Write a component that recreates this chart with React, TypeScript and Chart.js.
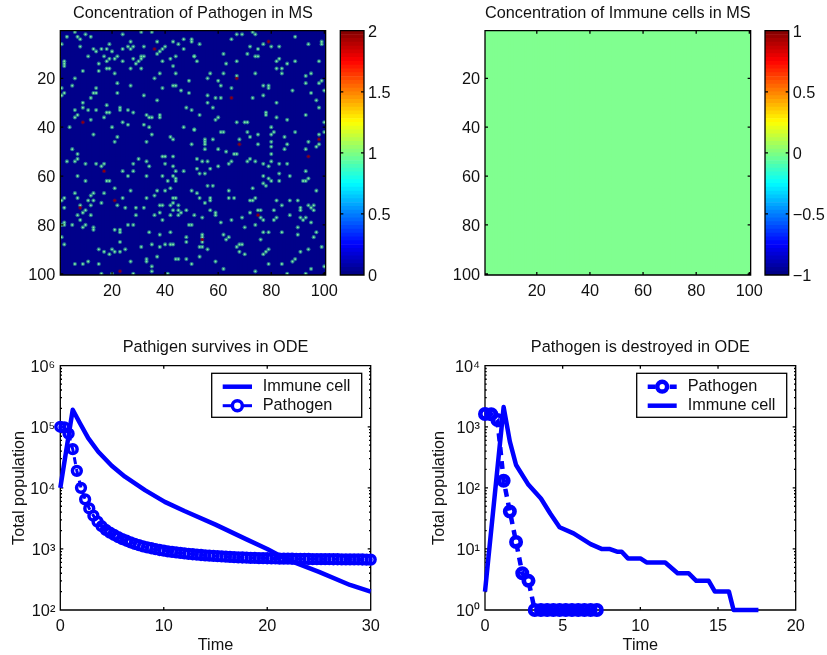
import React, { useEffect, useRef } from "react";
import { Chart, registerables } from "chart.js";

Chart.register(...registerables);

const FONT = "'Liberation Sans', Arial, sans-serif";
const BLUE = "#0000ff";
const FS = 16.3;

const titleTopLeft = "Concentration of Pathogen in MS";
const titleTopRight = "Concentration of Immune cells in MS";
const titleBottomLeft = "Pathigen survives in ODE";
const titleBottomRight = "Pathogen is destroyed in ODE";

const heatTicks = [20, 40, 60, 80, 100];
const barTicksPathogen = [0, 0.5, 1, 1.5, 2];
const barTicksImmune = [-1, -0.5, 0, 0.5, 1];

// Cells of the pathogen matrix holding a value of 1: [column, row]
const pathogenOnes: number[][] = [
  [3,3],[6,1],[7,3],[8,4],[10,2],[12,3],[24,2],[31,1],[35,1],[1,6],[8,7],[13,8],[14,9],[16,8],[18,8],[20,9],[19,6],[24,8],[27,5],[26,7],[28,7],[27,8],[32,7],[37,5],[43,5],[45,6],[47,4],[50,4],[50,5],[47,8],[38,9],[39,8],[40,7],[37,10],
  [11,11],[17,11],[22,11],[21,12],[19,12],[18,13],[15,14],[24,13],[28,12],[31,11],[31,12],[30,13],[29,14],[32,11],[39,13],[42,12],[44,11],[51,11],[2,13],[2,14],[2,15],[43,15],[9,17],[15,17],[18,16],[19,16],[21,18],[27,16],[31,16],[38,18],[44,18],[6,20],[36,20],[49,21],[22,22],[27,23],[5,23],[43,23],[44,23],[39,24],[46,25],[49,26],[1,24],[2,26],[1,27],[14,24],[13,26],[14,26],[22,26],[12,28],[32,27],[37,29],[9,30],[9,32],[18,31],[6,33],[11,33],[14,33],[23,32],[23,33],[26,33],[28,34],[18,34],[19,34],[48,32],[50,33],[7,35],[6,36],[17,36],[33,35],[34,36],[35,36],[38,35],[38,36],[12,37],[24,38],[26,39],[32,39],[34,40],[4,40],[20,40],[47,40],[51,41],[13,43],[35,43],[22,44],[42,44],[43,45],[21,46],[33,46],[50,47],[5,49],[7,51],
  [67,2],[69,2],[73,1],[74,2],[89,3],[65,4],[53,6],[77,6],[72,7],[75,8],[80,7],[83,7],[94,6],[99,5],[99,6],[62,10],[71,10],[74,11],[75,11],[83,12],[82,13],[89,13],[98,13],[51,11],[52,13],[67,13],[63,14],[86,14],[82,16],[84,16],[84,18],[57,18],[62,18],[74,18],[95,18],[93,19],[67,19],[56,20],[60,21],[99,21],[98,22],[93,22],[61,23],[77,23],[79,23],[79,24],[65,24],[88,25],[95,26],[100,25],[56,27],[59,28],[61,28],[73,28],[77,27],[97,29],[56,30],[82,30],[58,32],[98,32],[78,34],[78,35],[53,35],[93,35],[60,36],[59,37],[82,36],[86,37],[67,38],[70,38],[71,38],[100,38],[80,40],[51,41],[61,42],[62,42],[71,42],[81,42],[80,43],[75,43],[89,42],[100,42],[72,44],[85,44],[98,43],[58,45],[68,45],[55,45],[55,46],[55,47],[94,46],[80,46],[75,47],[86,47],[98,47],[97,48],[80,48],[55,49],[60,49],[85,49],[93,49],[63,50],[66,51],[67,51],[80,51],
  [3,54],[6,54],[7,53],[10,55],[14,55],[16,56],[17,55],[28,55],[30,53],[33,54],[34,56],[39,52],[40,52],[43,52],[40,55],[43,56],[24,58],[28,58],[44,58],[47,58],[7,60],[26,60],[33,60],[39,60],[43,60],[44,61],[44,62],[10,62],[18,62],[19,62],[41,62],[21,65],[42,65],[27,66],[37,66],[40,66],[50,66],[6,67],[13,67],[12,68],[17,67],[36,68],[7,69],[24,69],[33,69],[43,69],[44,69],[2,69],[1,70],[11,70],[13,70],[16,71],[43,71],[8,72],[12,72],[22,72],[38,72],[39,72],[42,72],[45,72],[2,73],[25,73],[29,73],[32,73],[10,74],[9,75],[38,75],[43,74],[45,74],[48,74],[46,75],[7,76],[12,76],[29,76],[36,76],[42,76],[45,76],[51,76],[8,78],[39,78],[2,79],[2,80],[1,80],[5,80],[10,80],[9,81],[26,80],[28,80],[49,80],[50,80],[13,81],[13,82],[21,82],[23,82],[23,83],[34,83],[42,83],[38,84],[48,85],[1,85],[2,88],[23,87],[48,87],[31,89],[35,88],[38,89],[40,88],[42,88],[43,88],[15,90],[20,90],[17,91],[21,91],[23,91],[25,90],[19,92],[37,93],[33,94],[33,95],[27,95],[44,94],[45,94],[48,94],[6,96],[9,96],[11,95],[15,96],[50,96],[35,97],[35,99],[16,100],[20,100],[28,100],[41,100],
  [52,53],[54,54],[56,54],[65,54],[64,55],[71,54],[72,53],[74,54],[77,55],[80,54],[79,56],[83,55],[86,55],[52,57],[57,57],[60,56],[93,58],[53,59],[55,59],[83,59],[77,60],[87,60],[79,61],[80,62],[83,62],[92,62],[93,62],[94,61],[77,63],[78,64],[56,64],[58,64],[73,65],[64,66],[97,66],[52,67],[64,69],[66,69],[53,69],[57,69],[57,70],[74,69],[72,70],[73,70],[55,71],[82,70],[87,70],[90,70],[84,72],[94,72],[96,72],[95,73],[96,74],[91,73],[91,74],[57,74],[59,75],[59,76],[75,74],[76,74],[81,74],[72,75],[87,76],[54,77],[69,77],[76,77],[77,78],[82,77],[81,78],[91,77],[93,77],[92,78],[65,78],[61,79],[95,79],[74,80],[70,81],[90,81],[77,83],[79,83],[84,83],[97,83],[62,84],[64,85],[63,86],[90,84],[96,85],[54,84],[54,85],[54,87],[76,86],[68,88],[69,88],[67,89],[99,89],[53,89],[54,89],[56,90],[79,90],[78,91],[77,92],[68,91],[70,92],[91,91],[94,90],[53,93],[89,94],[88,95],[59,95],[79,96],[84,96],[62,98],[95,98],[74,99],[100,97],[86,100],[93,100],
];
// Cells of the pathogen matrix holding a value of 2: [column, row]
const pathogenTwos: number[][] = [
  [36,8],[9,38],[79,5],[67,20],[65,28],[98,45],[68,47],[17,58],[21,70],[8,73],[23,99],[94,52],[75,76],[54,86],
];

const survivesImmuneT = [0, 1.2, 1.9, 2.7, 3.67, 4.97, 6.25, 8.18, 10.1, 12, 15, 18, 20, 22, 25, 28, 30];
const survivesImmuneV = [10000, 190000, 114000, 65000, 39000, 23000, 15200, 9200, 5900, 4170, 2500, 1435, 1000, 660, 420, 257, 200];
const survivesPathogenT = [0,0.4,0.8,1.2,1.6,2,2.4,2.8,3.2,3.6,4,4.4,4.8,5.2,5.6,6,6.4,6.8,7.2,7.6,8,8.4,8.8,9.2,9.6,10,10.4,10.8,11.2,11.6,12,12.4,12.8,13.2,13.6,14,14.4,14.8,15.2,15.6,16,16.4,16.8,17.2,17.6,18,18.4,18.8,19.2,19.6,20,20.4,20.8,21.2,21.6,22,22.4,22.8,23.2,23.6,24,24.4,24.8,25.2,25.6,26,26.4,26.8,27.2,27.6,28,28.4,28.8,29.2,29.6,30];
const survivesPathogenV = [100000,98000,77000,43000,19000,10000,6500,4600,3500,2800,2350,2050,1850,1700,1560,1450,1360,1280,1210,1150,1100,1060,1025,990,960,935,915,895,875,860,845,830,818,806,796,786,777,768,760,753,746,740,734,729,724,720,716,712,709,706,703,700,698,696,694,692,690,688,687,686,684,683,682,681,680,679,678,677,676,675,674,673,672,671,670,670];

const destroyedPathogenT = [0,0.4,0.8,1.2,1.6,2,2.4,2.8,3.2,3.6,4,4.4,4.8,5.2,5.6,6,6.4,6.8,7.2];
const destroyedPathogenV = [1620,1600,1290,131,41,13,4,3,1,1,1,1,1,1,1,1,1,1,1];
const destroyedImmuneT = [0, 1.2, 1.6, 2, 2.8, 3.6, 4.2, 4.8, 5.7, 6.8, 7.5, 8, 8.5, 8.8, 9.2, 10, 10.4, 11.6, 12.4, 13.1, 13.6, 14.4, 14.8, 15.7, 16, 17.6];
const destroyedImmuneV = [2, 2100, 570, 237, 112, 67, 38, 22.6, 18, 12, 10, 10, 9, 9, 7, 7, 6, 6, 4, 4, 3, 3, 2, 2, 1, 1];

const jet = (i: number, n = 64) => {
  const x = (i + 0.5) / n;
  const c = (d: number) => Math.round(255 * Math.max(0, Math.min(1, 1.5 - Math.abs(4 * x - d))));
  return `rgb(${c(3)},${c(2)},${c(1)})`;
};
const ZERO_PATHOGEN = "#00008a";
const ZERO_IMMUNE = "#80ff90";

const pts = (cells: number[][]) => cells.map(([x, y]) => ({ x, y }));
const xy = (t: number[], v: number[]) => t.map((x, i) => ({ x, y: v[i] }));
const allCells = () => {
  const out: { x: number; y: number }[] = [];
  for (let r = 1; r <= 100; r++) for (let c = 1; c <= 100; c++) out.push({ x: c, y: r });
  return out;
};

type Box = { x: number; y: number; w: number; h: number };
type Area = { l: number; t: number; r: number; b: number };

const axesPlugin = {
  id: "matlabAxes",
  beforeDatasetsDraw(chart: any, _a: any, o: any) {
    if (!o.onTop) draw(chart, o);
  },
  afterDatasetsDraw(chart: any, _a: any, o: any) {
    if (o.onTop) draw(chart, o);
    if (o.legend) drawLegend(chart, o.legend);
  },
};

function draw(chart: any, o: any) {
  const { ctx, chartArea: a, scales } = chart;
  ctx.save();
  ctx.strokeStyle = "#000";
  ctx.lineWidth = 1.3;
  ctx.beginPath();
  const seg = (x1: number, y1: number, x2: number, y2: number) => {
    ctx.moveTo(x1, y1);
    ctx.lineTo(x2, y2);
  };
  if (scales.x && o.xTicks) {
    for (const v of o.xTicks) {
      const p = scales.x.getPixelForValue(v);
      seg(p, a.bottom, p, a.bottom - 3);
      seg(p, a.top, p, a.top + 3);
    }
  }
  for (const v of o.yTicks || []) {
    const p = scales.y.getPixelForValue(v);
    seg(a.left, p, a.left + 3, p);
    seg(a.right, p, a.right - 3, p);
  }
  for (const v of o.yMinor || []) {
    const p = scales.y.getPixelForValue(v);
    seg(a.left, p, a.left + 1.7, p);
    seg(a.right, p, a.right - 1.7, p);
  }
  ctx.rect(a.left, a.top, a.right - a.left, a.bottom - a.top);
  ctx.stroke();
  ctx.restore();
}

function drawLegend(chart: any, l: any) {
  const { ctx } = chart;
  const box = chart.canvas.getBoundingClientRect();
  const ox = -box.left - window.scrollX;
  const oy = -box.top - window.scrollY;
  ctx.save();
  ctx.fillStyle = "#fff";
  ctx.strokeStyle = "#000";
  ctx.lineWidth = 1.3;
  ctx.fillRect(l.x0 + ox, l.y0 + oy, l.x1 - l.x0, l.y1 - l.y0);
  ctx.strokeRect(l.x0 + ox, l.y0 + oy, l.x1 - l.x0, l.y1 - l.y0);
  l.rows.forEach((r: any, i: number) => {
    const y = l.ys[i] + oy;
    ctx.strokeStyle = BLUE;
    ctx.lineWidth = r.lw;
    ctx.setLineDash(r.dash || []);
    ctx.beginPath();
    ctx.moveTo(l.lx0 + ox, y);
    ctx.lineTo(l.lx1 + ox, y);
    ctx.stroke();
    ctx.setLineDash([]);
    if (r.marker) {
      ctx.lineWidth = r.ring;
      ctx.fillStyle = "#fff";
      ctx.beginPath();
      ctx.arc((l.lx0 + l.lx1) / 2 + ox, y, r.radius, 0, Math.PI * 2);
      ctx.fill();
      ctx.stroke();
    }
    ctx.fillStyle = "#111";
    ctx.font = `${FS}px ${FONT}`;
    ctx.textBaseline = "middle";
    ctx.textAlign = "left";
    ctx.fillText(r.label, l.tx + ox, y);
  });
  ctx.restore();
}

function base(box: Box, area: Area, title: string | null, titleCenterY: number) {
  const rel = { l: area.l - box.x, t: area.t - box.y, r: area.r - box.x, b: area.b - box.y };
  const lh = FS * 1.2;
  const top = titleCenterY - box.y - lh / 2;
  return {
    responsive: false,
    animation: false as const,
    layout: { padding: { left: 0, top: 0, right: box.w - rel.r, bottom: 0 } },
    plugins: {
      legend: { display: false },
      tooltip: { enabled: false },
      title: {
        display: true,
        text: title,
        fullSize: false,
        color: "#111",
        font: { family: FONT, size: FS, weight: "normal" as const },
        padding: { top: Math.max(0, top), bottom: rel.t - Math.max(0, top) - lh },
      },
    },
    _fitL: rel.l,
    _fitB: box.h - rel.b,
  };
}

const heatAxis = (fit: (s: any) => void, padding: number, labelOffset: number) => ({
  type: "linear" as const,
  min: 0.5,
  max: 100.5,
  grid: { display: false, drawTicks: false },
  border: { display: false },
  afterBuildTicks: (s: any) => {
    s.ticks = heatTicks.map((value) => ({ value }));
  },
  afterFit: fit,
  ticks: { autoSkip: false, maxRotation: 0, padding, labelOffset, color: "#111", font: { family: FONT, size: FS } },
});

function heatConfig(box: Box, area: Area, title: string, datasets: any[]) {
  const b: any = base(box, area, title, 13.5);
  return {
    type: "scatter",
    data: { datasets },
    plugins: [axesPlugin],
    options: {
      ...b,
      plugins: { ...b.plugins, matlabAxes: { onTop: true, xTicks: heatTicks, yTicks: heatTicks } },
      scales: {
        x: heatAxis((s: any) => { s.height = b._fitB; }, 7, 0),
        y: { ...heatAxis((s: any) => { s.width = b._fitL; }, 5, 1.5), reverse: true },
      },
    },
  };
}

function barConfig(box: Box, area: Area, ticks: number[]) {
  const lo = ticks[0];
  const hi = ticks[ticks.length - 1];
  const step = (hi - lo) / 64;
  const levels = Array.from({ length: 64 }, (_, i) => i);
  const rel = { l: area.l - box.x, t: area.t - box.y, r: area.r - box.x, b: area.b - box.y };
  return {
    type: "bar",
    data: {
      labels: ["c"],
      datasets: levels.map((i) => ({
        data: [[lo + i * step, lo + (i + 1) * step]],
        backgroundColor: jet(i),
        borderWidth: 0,
        grouped: false,
        barPercentage: 1,
        categoryPercentage: 1,
      })),
    },
    plugins: [axesPlugin],
    options: {
      responsive: false,
      animation: false,
      layout: { padding: { left: rel.l, top: rel.t, right: 0, bottom: box.h - rel.b } },
      plugins: { legend: { display: false }, tooltip: { enabled: false }, matlabAxes: { onTop: true, yTicks: ticks } },
      scales: {
        x: { display: false, offset: true },
        y: {
          type: "linear",
          position: "right",
          min: lo,
          max: hi,
          grid: { display: false, drawTicks: false },
          border: { display: false },
          afterBuildTicks: (s: any) => {
            s.ticks = ticks.map((value) => ({ value }));
          },
          afterFit: (s: any) => { s.width = box.w - rel.r; },
          ticks: {
            padding: 4,
            labelOffset: 1.5,
            color: "#111",
            font: { family: FONT, size: FS },
            callback: (v: number) => String(v).replace("-", "\u2212"),
          },
        },
      },
    },
  };
}

const SUP = "\u2070\u00b9\u00b2\u00b3\u2074\u2075\u2076";

function logConfig(box: Box, area: Area, title: string, datasets: any[], xMax: number, xTicks: number[], decades: number[], legend: any) {
  const b: any = base(box, area, title, 348);
  const minor: number[] = [];
  for (const d of decades.slice(0, -1)) for (const m of [2, 3, 4, 5, 6, 7, 8, 9]) minor.push(d * m);
  return {
    type: "line",
    data: { datasets },
    plugins: [axesPlugin],
    options: {
      ...b,
      plugins: { ...b.plugins, matlabAxes: { onTop: false, xTicks, yTicks: decades, yMinor: minor, legend } },
      scales: {
        x: {
          type: "linear",
          min: 0,
          max: xMax,
          grid: { display: false, drawTicks: false },
          border: { display: false },
          afterBuildTicks: (s: any) => {
            s.ticks = xTicks.map((value) => ({ value }));
          },
          afterFit: (s: any) => { s.height = b._fitB; },
          title: { display: true, text: "Time", color: "#111", font: { family: FONT, size: FS }, padding: { top: 0, bottom: 0 } },
          ticks: { autoSkip: false, maxRotation: 0, padding: 7, color: "#111", font: { family: FONT, size: FS } },
        },
        y: {
          type: "logarithmic",
          min: decades[0],
          max: decades[decades.length - 1],
          grid: { display: false, drawTicks: false },
          border: { display: false },
          afterBuildTicks: (s: any) => {
            s.ticks = decades.map((value) => ({ value }));
          },
          afterFit: (s: any) => { s.width = b._fitL; },
          title: { display: true, text: "Total population", color: "#111", font: { family: FONT, size: FS }, padding: { top: 9.5, bottom: 0 } },
          ticks: {
            autoSkip: false,
            padding: 5,
            labelOffset: 2,
            color: "#111",
            font: { family: FONT, size: FS },
            callback: (v: number) => "10" + SUP[Math.round(Math.log10(v))],
          },
        },
      },
    },
  };
}

function Panel({ box, make }: { box: Box; make: () => any }) {
  const ref = useRef<HTMLCanvasElement>(null);
  useEffect(() => {
    const chart = new Chart(ref.current as HTMLCanvasElement, make());
    return () => chart.destroy();
  }, []);
  return (
    <canvas
      ref={ref}
      width={box.w}
      height={box.h}
      style={{ position: "absolute", left: box.x, top: box.y, width: box.w, height: box.h, display: "block" }}
    />
  );
}

const boxTL: Box = { x: 0, y: 0, w: 345, h: 305 };
const areaTL: Area = { l: 60.3, t: 30.7, r: 325.7, b: 275 };
const boxTR: Box = { x: 420, y: 0, w: 350, h: 305 };
const areaTR: Area = { l: 485, t: 30.7, r: 750.7, b: 275 };
const boxCL: Box = { x: 335, y: 0, w: 70, h: 305 };
const areaCL: Area = { l: 340.3, t: 30.7, r: 364, b: 275 };
const boxCR: Box = { x: 760, y: 0, w: 67, h: 305 };
const areaCR: Area = { l: 765, t: 30.7, r: 788.7, b: 275 };
const boxBL: Box = { x: 0, y: 330, w: 395, h: 325 };
const areaBL: Area = { l: 60.3, t: 365.7, r: 370.7, b: 610 };
const boxBR: Box = { x: 420, y: 330, w: 400, h: 325 };
const areaBR: Area = { l: 485, t: 365.7, r: 795.7, b: 610 };

const cellSet = (data: any[], color: string, radius: number, label: string) => ({
  label,
  data,
  showLine: false,
  pointStyle: "circle",
  pointRadius: radius,
  pointBorderWidth: 0,
  pointBackgroundColor: color,
  clip: 0,
});

// Chart.js paints the first dataset last, so the base matrix comes at the end.
const tlDatasets = () => [
  cellSet(pts(pathogenTwos), "#960000", 1.1, "2"),
  cellSet(pts(pathogenOnes), "#80eca0", 0.95, "1"),
  cellSet(pts(pathogenTwos), "rgba(110,0,60,0.6)", 2.1, "2 halo"),
  cellSet(pts(pathogenOnes), "rgba(55,165,150,0.7)", 2.1, "1 halo"),
  { ...cellSet(allCells(), ZERO_PATHOGEN, 3, "0"), pointStyle: "rect" },
];
const trDatasets = () => [{ ...cellSet(allCells(), ZERO_IMMUNE, 3, "0"), pointStyle: "rect" }];

const lineSet = (label: string, data: any[]) => ({
  label, data, borderColor: BLUE, borderWidth: 4.5, borderJoinStyle: "round" as const, pointRadius: 0, tension: 0, fill: false, clip: false as any,
});
const markSet = (label: string, data: any[], lw: number, ring: number, r: number, dash: number[]) => ({
  label, data, borderColor: BLUE, borderWidth: lw, borderDash: dash, tension: 0, fill: false, clip: false as any,
  pointRadius: r, pointBorderWidth: ring, pointBorderColor: BLUE, pointBackgroundColor: "transparent",
});

export default function App() {
  return (
    <div style={{ position: "absolute", left: 0, top: 0, width: 827, height: 655, background: "#fff" }}>
      <Panel box={boxTL} make={() => heatConfig(boxTL, areaTL, titleTopLeft, tlDatasets())} />
      <Panel box={boxTR} make={() => heatConfig(boxTR, areaTR, titleTopRight, trDatasets())} />
      <Panel box={boxCL} make={() => barConfig(boxCL, areaCL, barTicksPathogen)} />
      <Panel box={boxCR} make={() => barConfig(boxCR, areaCR, barTicksImmune)} />
      <Panel
        box={boxBL}
        make={() =>
          logConfig(boxBL, areaBL, titleBottomLeft,
            [markSet("Pathogen", xy(survivesPathogenT, survivesPathogenV), 3, 3.5, 4.4, [7, 5]), lineSet("Immune cell", xy(survivesImmuneT, survivesImmuneV))],
            30, [0, 10, 20, 30], [100, 1000, 10000, 100000, 1000000],
            { x0: 211.7, y0: 373.3, x1: 361.7, y1: 417.3, lx0: 222.7, lx1: 252, tx: 262.7, ys: [386.7, 405.7],
              rows: [{ label: "Immune cell", lw: 4.5 }, { label: "Pathogen", lw: 3, marker: true, ring: 3.5, radius: 5 }] })
        }
      />
      <Panel
        box={boxBR}
        make={() =>
          logConfig(boxBR, areaBR, titleBottomRight,
            [lineSet("Immune cell", xy(destroyedImmuneT, destroyedImmuneV)), markSet("Pathogen", xy(destroyedPathogenT, destroyedPathogenV), 4.5, 4.6, 4.7, [8, 6])],
            20, [0, 5, 10, 15, 20], [1, 10, 100, 1000, 10000],
            { x0: 636.7, y0: 373.3, x1: 786.7, y1: 417.3, lx0: 647.7, lx1: 676.7, tx: 687.7, ys: [386.7, 405.7],
              rows: [{ label: "Pathogen", lw: 4.5, dash: [8, 3], marker: true, ring: 4.5, radius: 4.9 }, { label: "Immune cell", lw: 4.5 }] })
        }
      />
    </div>
  );
}
